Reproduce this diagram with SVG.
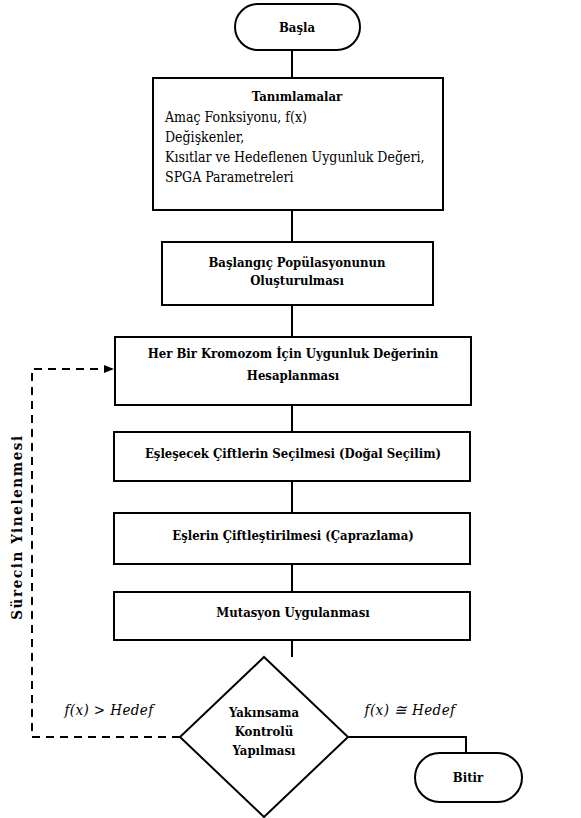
<svg xmlns="http://www.w3.org/2000/svg" width="581" height="818" viewBox="0 0 581 818">
<defs>
<style>
.box{fill:#fff;stroke:#000;stroke-width:2}
.ln{fill:none;stroke:#000;stroke-width:2}
.dash{fill:none;stroke:#000;stroke-width:2;stroke-dasharray:8 6}
text{font-family:"DejaVu Serif Condensed","DejaVu Serif",serif}
.b{font-weight:bold;font-size:13px;fill:#000;text-anchor:middle}
.n{font-size:14px;fill:#000}
.it{font-style:italic;font-size:15px;letter-spacing:0.4px;fill:#000;text-anchor:middle}
.rot{font-weight:bold;font-size:15px;letter-spacing:1.6px;fill:#000;text-anchor:middle}
</style>
<marker id="arr" viewBox="0 0 10 10" refX="10" refY="5" markerWidth="10" markerHeight="10" markerUnits="userSpaceOnUse" orient="auto">
<path d="M0,1 L10,5 L0,9 z" fill="#000"/>
</marker>
</defs>
<rect width="581" height="818" fill="#fff"/>
<g id="connectors">
<line class="ln" x1="292" y1="50" x2="292" y2="78"/>
<line class="ln" x1="292" y1="210" x2="292" y2="242"/>
<line class="ln" x1="292" y1="305" x2="292" y2="337"/>
<line class="ln" x1="292" y1="405" x2="292" y2="432"/>
<line class="ln" x1="292" y1="481" x2="292" y2="513"/>
<line class="ln" x1="292" y1="564" x2="292" y2="592"/>
<line class="ln" x1="292" y1="640" x2="292" y2="657"/>
<polyline class="ln" points="348,737 466,737 466,753"/>
<polyline class="dash" points="180,737 32,737 32,369 114,369" marker-end="url(#arr)"/>
<text class="it" x="109" y="715">f(x) &gt; Hedef</text>
<text class="it" x="410" y="715">f(x) ≅ Hedef</text>
<text class="rot" transform="translate(22,527) rotate(-90)">Sürecin Yinelenmesi</text>
</g>
<g id="start">
<rect class="box" x="235" y="4" width="125" height="46" rx="23" ry="23"/>
<text class="b" x="297" y="32">Başla</text>
</g>
<g id="definitions">
<rect class="box" x="153" y="78" width="290" height="132"/>
<text class="b" x="297" y="101">Tanımlamalar</text>
<text class="n" x="165" y="122">Amaç Fonksiyonu, f(x)</text>
<text class="n" x="165" y="142">Değişkenler,</text>
<text class="n" x="165" y="162">Kısıtlar ve Hedeflenen Uygunluk Değeri,</text>
<text class="n" x="165" y="182">SPGA Parametreleri</text>
</g>
<g id="init">
<rect class="box" x="162" y="242" width="271" height="63"/>
<text class="b" x="297" y="267">Başlangıç Popülasyonunun</text>
<text class="b" x="297" y="285">Oluşturulması</text>
</g>
<g id="fitness">
<rect class="box" x="115" y="337" width="356" height="68"/>
<text class="b" x="293" y="358">Her Bir Kromozom İçin Uygunluk Değerinin</text>
<text class="b" x="293" y="380">Hesaplanması</text>
</g>
<g id="selection">
<rect class="box" x="114" y="432" width="356" height="49"/>
<text class="b" x="293" y="458">Eşleşecek Çiftlerin Seçilmesi (Doğal Seçilim)</text>
</g>
<g id="crossover">
<rect class="box" x="114" y="513" width="356" height="51"/>
<text class="b" x="293" y="540">Eşlerin Çiftleştirilmesi (Çaprazlama)</text>
</g>
<g id="mutation">
<rect class="box" x="114" y="592" width="356" height="48"/>
<text class="b" x="293" y="617">Mutasyon Uygulanması</text>
</g>
<g id="decision">
<polygon class="box" points="264,657 348,737 264,817 180,737"/>
<text class="b" x="264" y="717">Yakınsama</text>
<text class="b" x="264" y="736">Kontrolü</text>
<text class="b" x="264" y="755">Yapılması</text>
</g>
<g id="end">
<rect class="box" x="415" y="753" width="107" height="49" rx="24.5" ry="24.5"/>
<text class="b" x="468" y="782">Bitir</text>
</g>
</svg>
